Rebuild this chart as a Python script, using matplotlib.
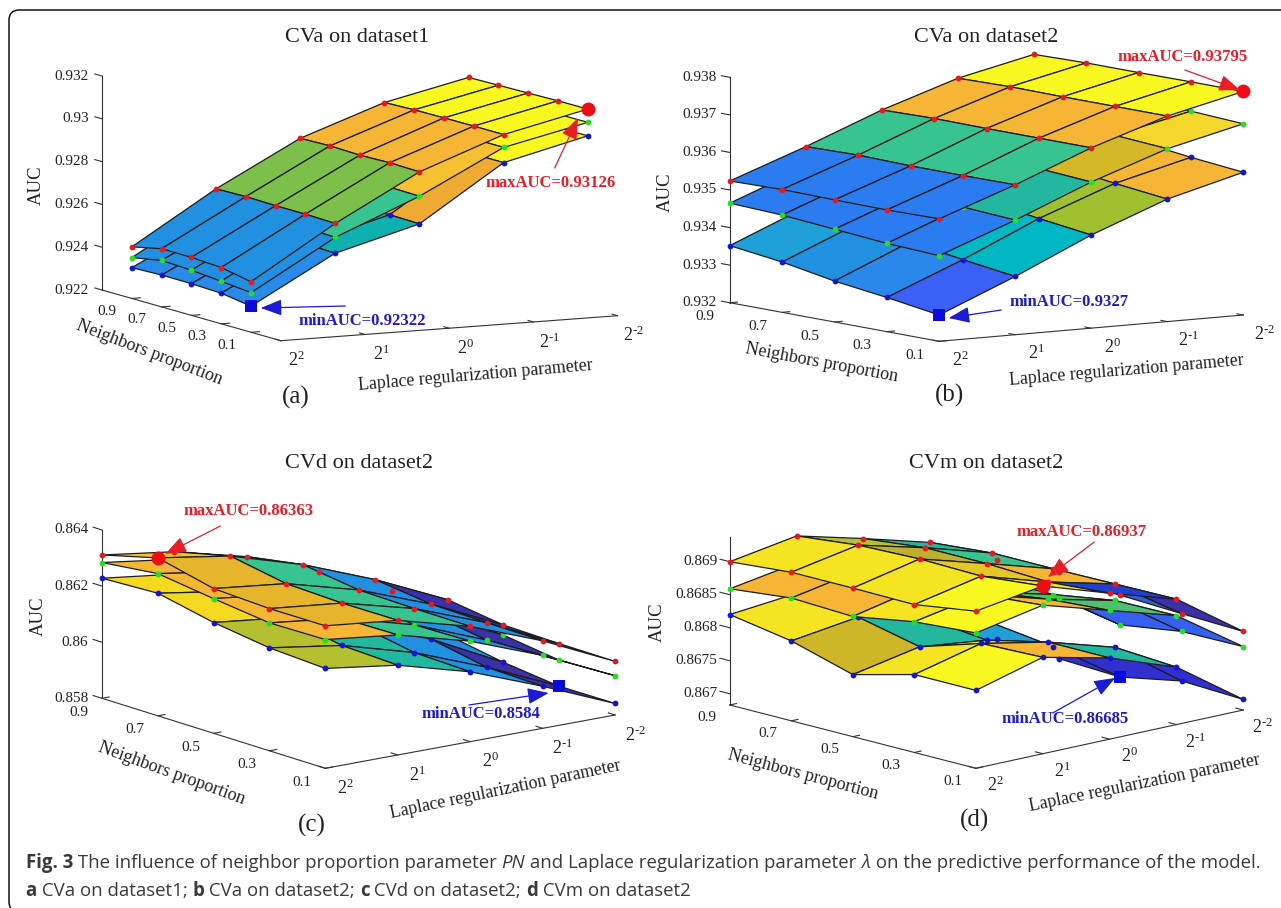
import numpy as np
import matplotlib
matplotlib.use("Agg")
import matplotlib.pyplot as plt
from matplotlib.colors import to_rgba
from matplotlib.patches import FancyArrowPatch, FancyBboxPatch
from mpl_toolkits.mplot3d import proj3d

plt.rcParams['font.family'] = ['Liberation Serif', 'DejaVu Serif']
plt.rcParams['mathtext.fontset'] = 'custom'
plt.rcParams['mathtext.rm'] = 'Liberation Serif'
plt.rcParams['mathtext.default'] = 'regular'

W, H = 1281, 908

# axes values
lam_pos = [0, 1, 2, 3, 4]
lam_labels = ['$2^{2}$', '$2^{1}$', '$2^{0}$', r'$2^{\text{-}1}$', r'$2^{\text{-}2}$']
pn = [0.9, 0.7, 0.5, 0.3, 0.1]
pn_labels = ['0.9', '0.7', '0.5', '0.3', '0.1']

# AUC, rows are PN 0.9..0.1, columns lambda 2^2..2^-2
a_red = [[.92441, .92683, .92890, .93028, .93116],
         [.92472, .92686, .92894, .93033, .93119],
         [.92471, .92683, .92890, .93035, .93122],
         [.92463, .92683, .92894, .93036, .93125],
         [.92436, .92679, .92891, .93036, .93126]]
a_green = [[.92391, .92618, .92776, .92968, .93054],
           [.92417, .92621, .92780, .92973, .93057],
           [.92411, .92618, .92776, .92975, .93060],
           [.92399, .92618, .92780, .92976, .93063],
           [.92385, .92614, .92777, .92976, .93064]]
a_blue = [[.92344, .92544, .92647, .92897, .92991],
          [.92349, .92547, .92651, .92902, .92994],
          [.92348, .92544, .92647, .92904, .92997],
          [.92343, .92544, .92651, .92905, .93000],
          [.92322, .92540, .92648, .92905, .93001]]

b_red = [[.93524, .93598, .93678, .93745, .93791],
         [.93527, .93601, .93681, .93748, .93794],
         [.93525, .93598, .93680, .93747, .93794],
         [.93524, .93598, .93680, .93747, .93795],
         [.93526, .93599, .93680, .93747, .93795]]
b_green = [[.93465, .93543, .93627, .93697, .93744],
           [.93459, .93537, .93621, .93691, .93739],
           [.93447, .93524, .93610, .93680, .93728],
           [.93435, .93514, .93599, .93670, .93717],
           [.93428, .93505, .93589, .93660, .93709]]
b_blue = [[.93352, .93437, .93524, .93594, .93643],
          [.93334, .93419, .93507, .93579, .93630],
          [.93309, .93396, .93487, .93561, .93611],
          [.93291, .93374, .93466, .93542, .93594],
          [.93270, .93355, .93448, .93526, .93580]]

c_red = [[.86311, .86275, .86210, .86109, .85992],
         [.86363, .86322, .86244, .86143, .86024],
         [.86316, .86286, .86216, .86118, .85996],
         [.86307, .86279, .86212, .86114, .85992],
         [.86308, .86280, .86211, .86112, .85991]]
c_green = [[.86284, .86248, .86183, .86082, .85965],
           [.86307, .86266, .86188, .86087, .85968],
           [.86280, .86250, .86180, .86082, .85960],
           [.86256, .86225, .86154, .86052, .85933],
           [.86259, .86228, .86158, .86060, .85940]]
c_blue = [[.86228, .86195, .86130, .86030, .85915],
          [.86237, .86196, .86118, .86017, .85898],
          [.86195, .86165, .86091, .85993, .85863],
          [.86167, .86128, .86055, .85955, .85840],
          [.86156, .86120, .86049, .85950, .85841]]

d_red = [[.86900, .86917, .86891, .86863, .86815],
         [.86908, .86927, .86901, .86871, .86820],
         [.86908, .86930, .86901, .86871, .86809],
         [.86907, .86928, .86897, .86872, .86805],
         [.86921, .86937, .86904, .86873, .86802]]
d_green = [[.86859, .86876, .86850, .86822, .86774],
           [.86869, .86888, .86862, .86832, .86781],
           [.86865, .86887, .86858, .86832, .86764],
           [.86881, .86900, .86871, .86847, .86778],
           [.86888, .86908, .86878, .86848, .86779]]
d_blue = [[.86820, .86830, .86810, .86780, .86695],
          [.86804, .86818, .86795, .86765, .86689],
          [.86777, .86797, .86785, .86753, .86685],
          [.86801, .86826, .86806, .86776, .86703],
          [.86801, .86829, .86806, .86770, .86699]]

# face colours, either one per lambda band or a full 4x4 grid
B1, B2, B3, IN = '#2190e0', '#2a7cf0', '#3a60f5', '#3a30a8'
TE, GR, LG, OL = '#22b8a0', '#38c490', '#7cc04a', '#b5c030'
OR, GO, YE, YL = '#f5b535', '#d4b828', '#f4e422', '#f8f820'
CY = '#00b8c4'

a_colors = [[B1, LG, OR, YL], [B1, GR, '#f7c030', YL], ['#2a8ae8', '#10b0b0', '#eeaa33', YL]]
b_colors = [[B2, GR, OR, YL], [B2, TE, GO, '#f5d62a'],
            [['#1fa0d8', CY, '#a0c030', OR], ['#2090e0', CY, '#a0c030', OR],
             ['#2a88ea', CY, '#a0c030', OR], [B3, CY, '#a0c030', OR]]]
c_colors = [[['#f3c52a', GO, GR, B1], ['#e6b52c', GR, B1, IN], ['#e6b52c', GR, B1, IN], ['#e6b52c', GR, B1, IN]],
            [['#f2b835', GR, B1, IN], [OR, GR, B1, IN], [OR, GR, B1, IN], [OR, GR, B1, IN]],
            [['#f5d820', OR, GR, B1], ['#f5d820', OR, GR, B1], [OL, TE, B1, IN], [OL, TE, B1, IN]]]
d_colors = [[[YE, OL, TE, TE], [YE, '#c0b030', GR, GR], [YE, '#e5c828', OR, '#2f5fd0'], [YL, YE, '#2040d0', IN]],
            [[OR, OR, '#50c070', '#3560f0'], [OR, OR, '#50c070', '#3560f0'], [YE, OR, '#50c070', '#3560f0'], [YL, OR, '#50c070', '#3560f0']],
            [[YE, TE, TE, '#3030d0'], ['#cdb628', TE, '#20a0d8', '#3030d0'], [YE, YE, '#3030d0', '#3030d0'], [YL, OR, TE, '#3030d0']]]

panels = [
    dict(red=a_red, green=a_green, blue=a_blue, colors=a_colors,
         ylim=(-0.1, 1.1), zlim=(.922, .932), zticks=[.922, .924, .926, .928, .93, .932],
         back=(102, 290), front=(280.8, 340.7), xend=(617.6, 315.7), ztop=(102, 76),
         max_at=(4, 4), min_at=(4, 0),
         zoff=-13.5, pn_off=(-24.5, 13), lam_off=(16, 20),
         title=('CVa on dataset1', 357.6, 37), auc=(36.7, 185), tag=('(a)', 296, 397),
         pn_lab=(149.4, 353, -20.9), lam_lab=(475, 375, 4.9),
         max_txt=('maxAUC=0.93126', 551, 183), min_txt=('minAUC=0.92322', 362.5, 321),
         max_arrow=((554.7, 168), (578, 118)), min_arrow=((345.3, 306), (260.8, 308))),
    dict(red=b_red, green=b_green, blue=b_blue, colors=b_colors,
         ylim=(0.1, 0.9), zlim=(.932, .938), zticks=[.932, .933, .934, .935, .936, .937, .938],
         back=(729.8, 302.7), front=(939.2, 341.3), xend=(1243.3, 315), ztop=(729.8, 77.3),
         max_at=(4, 4), min_at=(4, 0),
         zoff=-13.5, pn_off=(-24.5, 14), lam_off=(21, 19),
         title=('CVa on dataset2', 986.5, 37), auc=(665.7, 192), tag=('(b)', 949.8, 395),
         pn_lab=(821.2, 363, -10.6), lam_lab=(1126, 370, 4.9),
         max_txt=('maxAUC=0.93795', 1182.4, 57), min_txt=('minAUC=0.9327', 1068.6, 302),
         max_arrow=((1184.9, 70), (1240, 90)), min_arrow=((1001.2, 310), (948.6, 318))),
    dict(red=c_red, green=c_green, blue=c_blue, colors=c_colors,
         ylim=(0.1, 0.9), zlim=(.858, .864), zticks=[.858, .86, .862, .864],
         back=(102, 698.3), front=(325.3, 768.3), xend=(615.1, 715), ztop=(102, 530),
         max_at=(1, 0), min_at=(3, 4),
         zoff=-13.5, pn_off=(-23, 14), lam_off=(20, 20),
         title=('CVd on dataset2', 358.8, 463), auc=(38, 616), tag=('(c)', 312.2, 825),
         pn_lab=(171.4, 773, -20), lam_lab=(505.7, 790, 11.8),
         max_txt=('maxAUC=0.86363', 248.6, 511), min_txt=('minAUC=0.8584', 481.2, 714),
         max_arrow=((220.4, 526), (165.3, 554)), min_arrow=((469, 705), (548.6, 693))),
    dict(red=d_red, green=d_green, blue=d_blue, colors=d_colors,
         ylim=(0.1, 0.9), zlim=(.86683, .86937), zticks=[.867, .8675, .868, .8685, .869],
         back=(729.8, 705), front=(975.9, 768.3), xend=(1243.3, 710), ztop=(729.8, 537.3),
         max_at=(4, 1), min_at=(2, 4),
         zoff=-12.5, pn_off=(-23, 13), lam_off=(19.5, 17.5),
         title=('CVm on dataset2', 986.5, 463), auc=(657, 622), tag=('(d)', 974.3, 820),
         pn_lab=(802.9, 775, -14.9), lam_lab=(1144.5, 783, 11.5),
         max_txt=('maxAUC=0.86937', 1082, 532), min_txt=('minAUC=0.86685', 1064.9, 719),
         max_arrow=((1094.3, 542), (1047.8, 577)), min_arrow=((1052.7, 713), (1115.1, 678))),
]

RED, BLUE = '#ea1c24', '#1a1ad8'
fig = plt.figure(figsize=(W / 100, H / 100), dpi=100)


def ftext(x, y, s, **kw):
    kw.setdefault('ha', 'center')
    kw.setdefault('va', 'center')
    return fig.text(x / W, 1 - y / H, s, **kw)


def arrow(tail, tip, color):
    fig.add_artist(FancyArrowPatch((tail[0] / W, 1 - tail[1] / H), (tip[0] / W, 1 - tip[1] / H),
                                   transform=fig.transFigure, color=color, lw=0.9,
                                   arrowstyle='-|>,head_length=1.3,head_width=0.5',
                                   mutation_scale=10, shrinkA=0, shrinkB=0, zorder=5))


def camera(p):
    # elevation, azimuth and box size that put the box edges on the wanted pixels
    front, xend, back, ztop = [np.array(p[k], float) for k in ('front', 'xend', 'back', 'ztop')]
    xa, xb = xend[0] - front[0], front[1] - xend[1]
    ya, yb = back[0] - front[0], front[1] - back[1]
    h = back[1] - ztop[1]
    sin_e = np.sqrt((xb / xa) * (yb / -ya))
    cot_a = (xb / xa) / sin_e
    azim = np.degrees(np.arctan(1 / cot_a)) - 180
    sa, ca = np.sin(np.radians(azim)), np.cos(np.radians(azim))
    box = (xa / -sa, ya / ca, h / np.sqrt(1 - sin_e ** 2))
    center = front + (xend - front) / 2 + (back - front) / 2 + (ztop - back) / 2
    return np.degrees(np.arcsin(sin_e)), azim, box, center


def face_colors(c):
    grid = np.full((5, 5, 4), 0.0)
    for j in range(4):
        row = c[j] if isinstance(c[0], list) else c
        for i in range(4):
            grid[j, i] = to_rgba(row[i])
    return grid


for p in panels:
    elev, azim, box, center = camera(p)
    S = 1.85 * np.linalg.norm(box) / (1.8294640721620434 * 25 / 24)
    ax = fig.add_axes([0.2, 0.2, S / W, S / H], projection='3d', computed_zorder=False)
    ax.set_proj_type('ortho')
    ax.view_init(elev=elev, azim=azim)
    ax.set_box_aspect(box)
    ax.set_xlim(0, 4, view_margin=0)
    ax.set_ylim(*p['ylim'], view_margin=0)
    ax.set_zlim(*p['zlim'], view_margin=0)
    ax.set_axis_off()
    ax.apply_aspect()
    cx, cy = ax.transData.transform((0, 0))
    box_now = ax.get_position()
    ax.set_position([box_now.x0 + (center[0] - cx) / W, box_now.y0 + (H - center[1] - cy) / H,
                     box_now.width, box_now.height])

    X, Y = np.meshgrid(lam_pos, pn)
    z0, z1 = p['zlim']
    y0, y1 = p['ylim']
    layers = [(p['blue'], '#1414d8', p['colors'][2]),
              (p['green'], '#22e022', p['colors'][1]),
              (p['red'], '#e81820', p['colors'][0])]
    for k, (vals, mcol, cols) in enumerate(layers):
        Z = np.array(vals)
        ax.plot_surface(X, Y, Z, rstride=1, cstride=1, facecolors=face_colors(cols), shade=False,
                        edgecolor='#1c1c1c', linewidth=0.9, zorder=10 + 2 * k, clip_on=False)
        ax.plot(X.ravel(), Y.ravel(), Z.ravel(), 'o', color=mcol, ms=4.2, mew=0,
                zorder=11 + 2 * k, clip_on=False)

    # min and max markers
    j, i = p['min_at']
    ax.plot([lam_pos[i]], [pn[j]], [p['blue'][j][i]], 's', color='#0a0ae0', ms=8.2, mew=0,
            zorder=30, clip_on=False)
    j, i = p['max_at']
    ax.plot([lam_pos[i]], [pn[j]], [p['red'][j][i]], 'o', color='#f00a14', ms=10, mew=0,
            zorder=30, clip_on=False)

    # box edges and ticks
    line = dict(color='#333333', lw=0.8, zorder=1, clip_on=False)
    ax.plot([0, 0], [y1, y1], [z0, z1], **line)
    ax.plot([0, 0], [y1, y0], [z0, z0], **line)
    ax.plot([0, 4], [y0, y0], [z0, z0], **line)
    M = ax.get_proj()


    def at(x, y, z, s, off, **kw):
        xp, yp, _ = proj3d.proj_transform(x, y, z, M)
        ax.annotate(s, (xp, yp), xytext=(off[0], -off[1]), textcoords='offset pixels',
                    annotation_clip=False, color='#222222', **kw)


    ytick = 0.04 * (y1 - y0)
    for z in p['zticks']:
        ax.plot([0, 0], [y1, y1 + ytick], [z, z], **line)
        at(0, y1, z, '%g' % z, (p['zoff'], 0), ha='right', va='center', fontsize=11)
    for v, s in zip(pn, pn_labels):
        ax.plot([0, 0.1], [v, v], [z0, z0], **line)
        at(0, v, z0, s, p['pn_off'], ha='center', va='center', fontsize=11)
    for v, s in zip(lam_pos, lam_labels):
        ax.plot([v, v], [y0, y0 + 0.03 * (y1 - y0)], [z0, z0], **line)
        at(v, y0, z0, s, p['lam_off'], ha='center', va='center', fontsize=13)

    # texts
    s, x, y = p['title']
    ftext(x, y, s, fontsize=16, color='#222222')
    x, y = p['auc']
    ftext(x, y, 'AUC', fontsize=13.5, rotation=90, color='#222222')
    s, x, y = p['tag']
    ftext(x, y, s, fontsize=18, color='#222222')
    x, y, r = p['pn_lab']
    ftext(x, y, 'Neighbors proportion', fontsize=13, rotation=r, rotation_mode='anchor', color='#222222')
    x, y, r = p['lam_lab']
    ftext(x, y, 'Laplace regularization parameter', fontsize=12.8, rotation=r, rotation_mode='anchor', color='#222222')
    s, x, y = p['max_txt']
    ftext(x, y, s, fontsize=12, fontweight='bold', color=RED, zorder=6)
    s, x, y = p['min_txt']
    ftext(x, y, s, fontsize=12, fontweight='bold', color=BLUE, zorder=6)
    arrow(*p['max_arrow'], RED)
    arrow(*p['min_arrow'], BLUE)

# frame round the figure, it runs off the right and bottom edges
fig.add_artist(FancyBboxPatch((9 / W, 1 - 912 / H), 1295 / W, 902 / H,
                              boxstyle='round,pad=0,rounding_size=0.008', mutation_aspect=W / H,
                              transform=fig.transFigure, fc='none', ec='#111111', lw=1.1))

caption = [
    (25.5, 863, [('Fig. 3', 'bold', 'normal'),
                 (' The influence of neighbor proportion parameter ', 'normal', 'normal'),
                 ('PN', 'normal', 'italic'),
                 (' and Laplace regularization parameter ', 'normal', 'normal'),
                 ('λ', 'normal', 'italic'),
                 (' on the predictive performance of the model.', 'normal', 'normal')]),
    (25.5, 891, [('a', 'bold', 'normal'), (' CVa on dataset1; ', 'normal', 'normal'),
                 ('b', 'bold', 'normal'), (' CVa on dataset2; ', 'normal', 'normal'),
                 ('c', 'bold', 'normal'), (' CVd on dataset2; ', 'normal', 'normal'),
                 ('d', 'bold', 'normal'), (' CVm on dataset2', 'normal', 'normal')]),
]
renderer = fig.canvas.get_renderer()
CAP = 13.4
for x0, y0, runs in caption:
    x = x0
    for s, weight, style in runs:
        t = ftext(x, y0, s, ha='left', fontsize=CAP, family='Open Sans', fontweight=weight,
                  fontstyle=style, color='#3a3a3a')
        # trailing spaces are not in the extent, so measure with a bar after them
        probe = ftext(x, y0, s + '|', ha='left', fontsize=CAP, family='Open Sans', fontweight=weight,
                      fontstyle=style)
        bar = ftext(x, y0, '|', ha='left', fontsize=CAP, family='Open Sans', fontweight=weight,
                    fontstyle=style)
        x += probe.get_window_extent(renderer).width - bar.get_window_extent(renderer).width
        probe.remove()
        bar.remove()

fig.savefig('out.png', dpi=100)
